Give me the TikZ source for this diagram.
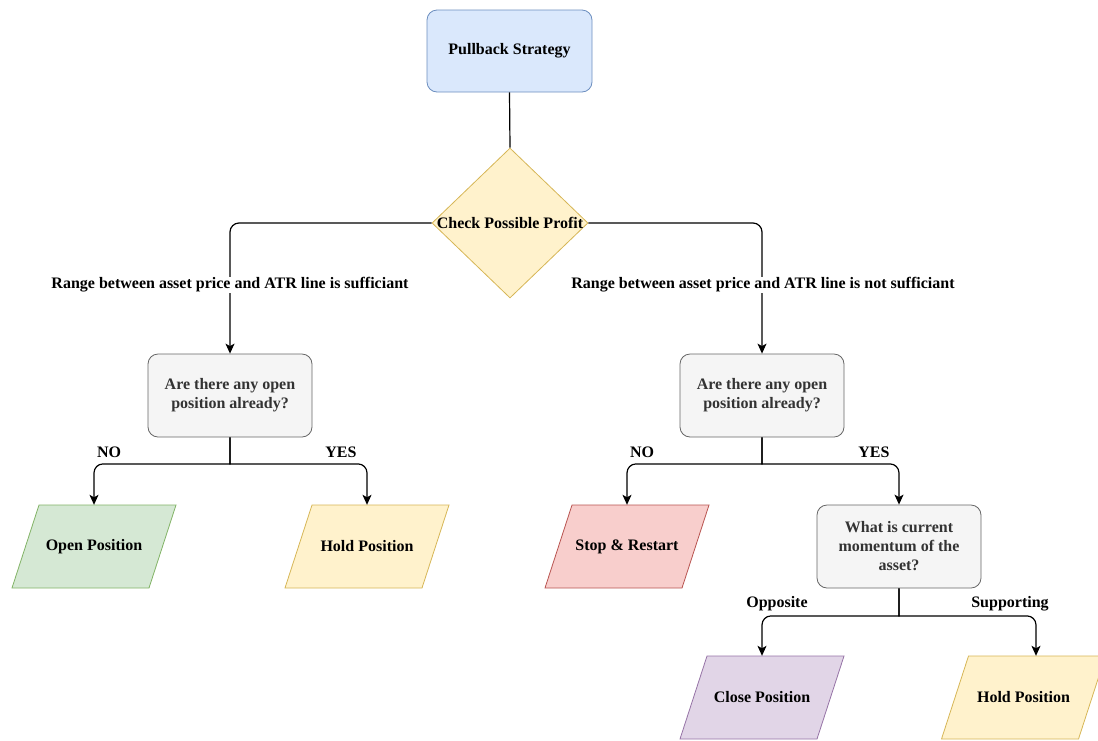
\documentclass[tikz,border=0pt]{standalone}
\usepackage{fontspec}
\setmainfont{Liberation Serif}
\usetikzlibrary{shapes.geometric,arrows.meta}

\definecolor{blueFill}{HTML}{DAE8FC}
\definecolor{blueLine}{HTML}{6C8EBF}
\definecolor{yellowFill}{HTML}{FFF2CC}
\definecolor{yellowLine}{HTML}{D6B656}
\definecolor{grayFill}{HTML}{F5F5F5}
\definecolor{grayLine}{HTML}{666666}
\definecolor{grayText}{HTML}{333333}
\definecolor{greenFill}{HTML}{D5E8D4}
\definecolor{greenLine}{HTML}{82B366}
\definecolor{redFill}{HTML}{F8CECC}
\definecolor{redLine}{HTML}{B85450}
\definecolor{purpleFill}{HTML}{E1D5E7}
\definecolor{purpleLine}{HTML}{9673A6}

\tikzset{
  txt/.style={font=\fontsize{16}{19}\selectfont\bfseries},
  startbox/.style={txt, draw=blueLine, fill=blueFill, rounded corners=10pt,
    minimum width=165pt, minimum height=82pt, line width=0.8pt},
  decision/.style={diamond, draw=yellowLine, fill=yellowFill, inner sep=0pt,
    minimum width=156pt, minimum height=150pt, line width=0.8pt},
  question/.style={txt, text=grayText, draw=grayLine, fill=grayFill,
    rounded corners=10pt, minimum width=164pt, minimum height=83pt,
    align=center, line width=0.8pt},
  outcome/.style={txt, minimum width=137pt, minimum height=83pt, inner sep=0pt},
  slanted/.style={line width=0.8pt},
  edgelabel/.style={txt, fill=white, inner sep=1pt},
  flow/.style={line width=1.2pt, -{Stealth[length=10pt,width=9pt,inset=2.5pt]}},
  plain/.style={line width=1.2pt},
}

% parallelogram outcome: name, x, y, fill, line, text
\newcommand{\outcomebox}[6]{%
  \filldraw[slanted, fill=#4, draw=#5]
    (#2-82,#3+41.5) -- (#2-55,#3-41.5) -- (#2+82,#3-41.5) -- (#2+55,#3+41.5) -- cycle;
  \node[outcome] (#1) at (#2,#3) {#6};%
}

\begin{document}
\begin{tikzpicture}[x=1pt,y=-1pt]
\useasboundingbox (0,0) rectangle (1098,740);

% main nodes
\node[startbox] (start) at (509.5,51) {Pullback Strategy};
\node[decision, label={[txt]center:Check Possible Profit}] (check) at (510,223) {};

\node[question] (qL) at (230,395.5) {Are there any open\\position already?};
\node[question] (qR) at (762,395.5) {Are there any open\\position already?};

\outcomebox{open}{94}{546.5}{greenFill}{greenLine}{Open Position}
\outcomebox{holdL}{367}{546.5}{yellowFill}{yellowLine}{Hold Position}
\outcomebox{stop}{627}{546.5}{redFill}{redLine}{Stop \& Restart}

\node[question] (mom) at (899,546.5) {What is current\\momentum of the\\asset?};

\outcomebox{close}{762}{697.5}{purpleFill}{purpleLine}{Close Position}
\outcomebox{holdR}{1023.5}{697.5}{yellowFill}{yellowLine}{Hold Position}

% connectors
\draw[plain] (start.south) -- (check.north);
\draw[flow, rounded corners=9pt] (check.west) -| (qL.north);
\draw[flow, rounded corners=9pt] (check.east) -| (qR.north);

\draw[flow] (qL.south) -- ++(0,26.5) [rounded corners=9pt] -| (open.north);
\draw[flow] (qL.south) -- ++(0,26.5) [rounded corners=9pt] -| (holdL.north);

\draw[flow] (qR.south) -- ++(0,26.5) [rounded corners=9pt] -| (stop.north);
\draw[flow] (qR.south) -- ++(0,26.5) [rounded corners=9pt] -| (mom.north);

\draw[flow] (mom.south) -- ++(0,27.5) [rounded corners=9pt] -| (close.north);
\draw[flow] (mom.south) -- ++(0,27.5) [rounded corners=9pt] -| ([xshift=12.5pt]holdR.north);

% edge labels
\node[edgelabel] (suff) at (230,285) {Range between asset price and ATR line is sufficiant};
\node[edgelabel] (notsuff) at (763,285) {Range between asset price and ATR line is not sufficiant};
\node[txt] (noL) at (109,452) {NO};
\node[txt] (yesL) at (341,452) {YES};
\node[txt] (noR) at (642,452) {NO};
\node[txt] (yesR) at (874,452) {YES};
\node[txt] (opp) at (777,604) {Opposite};
\node[txt] (supp) at (1010,604) {Supporting};
\end{tikzpicture}
\end{document}
